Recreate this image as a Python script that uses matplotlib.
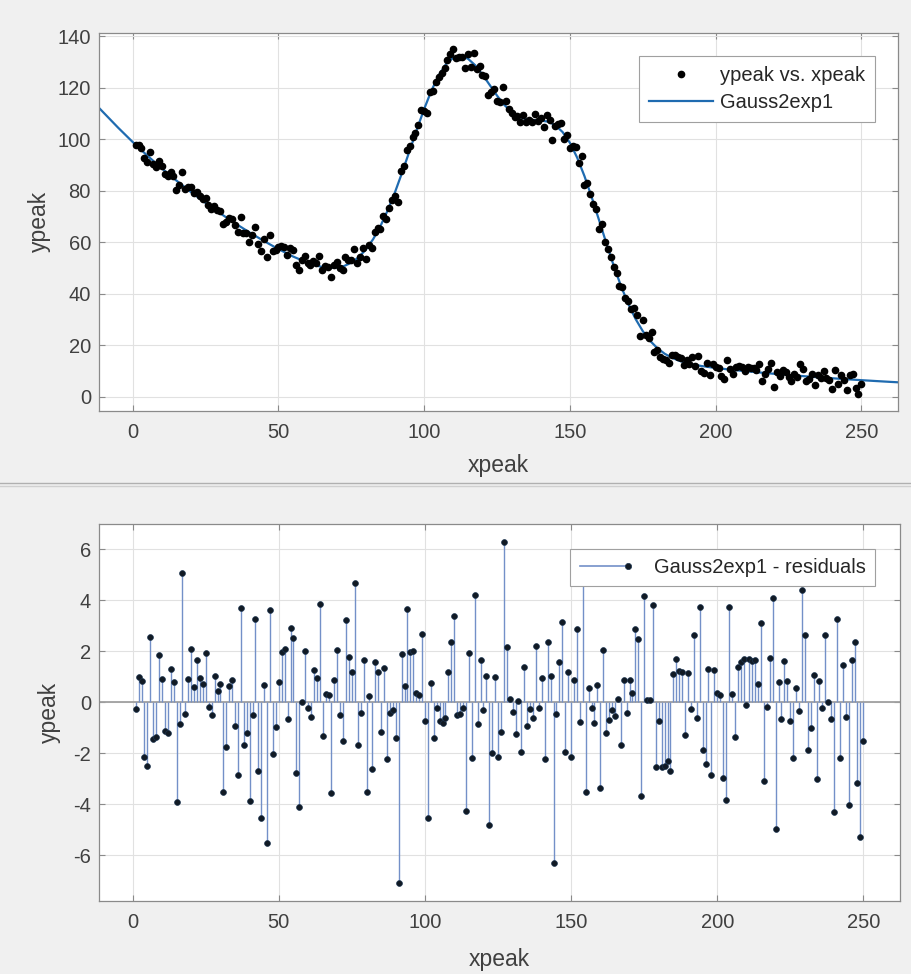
import numpy as np
import matplotlib
matplotlib.use('Agg')
import matplotlib.pyplot as plt
from matplotlib.lines import Line2D
from matplotlib.legend_handler import HandlerBase

plt.rcParams['font.family'] = ['Liberation Sans', 'DejaVu Sans']
plt.rcParams['axes.unicode_minus'] = False

# data (x = 1..250)
xpeak = np.arange(1, 251)
ypeak = [
    97.6, 97.8, 96.6, 92.6, 91.2, 95.2, 90.3, 89.3, 91.5, 89.6,
    86.6, 85.6, 87.2, 85.7, 80.1, 82.2, 87.3, 80.8, 81.3, 81.6,
    79.3, 79.5, 77.9, 76.8, 77.2, 74.3, 73.1, 73.9, 72.5, 72.0,
    67.0, 68.0, 69.6, 69.1, 66.5, 63.9, 69.7, 63.6, 63.4, 60.0,
    62.7, 65.8, 59.2, 56.6, 61.2, 54.4, 62.9, 56.6, 57.0, 58.1,
    58.7, 58.3, 55.0, 57.9, 57.0, 51.2, 49.4, 53.0, 54.5, 51.8,
    51.1, 52.6, 51.9, 54.5, 49.1, 50.6, 50.4, 46.5, 51.0, 52.2,
    49.8, 49.1, 54.2, 53.2, 53.2, 57.5, 52.1, 54.3, 57.6, 53.6,
    58.9, 57.7, 63.8, 65.4, 65.1, 70.1, 69.0, 73.4, 76.3, 78.1,
    75.5, 87.6, 89.6, 95.9, 97.5, 100.9, 102.5, 105.7, 111.3, 111.1,
    110.1, 118.3, 118.7, 122.3, 124.1, 125.8, 127.7, 130.9, 133.1, 135.1,
    131.5, 131.8, 132.0, 127.5, 133.2, 128.1, 133.5, 127.2, 128.3, 124.9,
    124.6, 117.1, 118.2, 119.6, 114.8, 114.3, 120.4, 114.9, 111.8, 110.2,
    108.6, 109.2, 106.6, 109.6, 106.9, 107.4, 106.9, 109.7, 107.1, 108.3,
    104.9, 109.3, 107.6, 99.7, 105.0, 106.0, 106.5, 100.0, 101.5, 96.5,
    97.2, 96.9, 90.6, 93.5, 82.1, 82.9, 78.8, 74.8, 72.8, 65.2,
    67.0, 60.2, 57.2, 54.1, 50.5, 47.9, 43.0, 42.5, 38.5, 37.0,
    34.1, 34.3, 31.8, 23.7, 29.6, 24.1, 22.6, 25.0, 17.4, 18.1,
    15.4, 14.6, 14.1, 13.0, 16.2, 16.3, 15.4, 15.0, 12.2, 14.3,
    12.6, 15.3, 11.8, 15.9, 10.1, 9.3, 12.9, 8.6, 12.6, 11.5,
    11.3, 7.9, 6.9, 14.4, 10.8, 9.0, 11.7, 11.8, 11.7, 9.8,
    11.5, 11.3, 11.3, 10.2, 12.5, 6.2, 9.0, 10.8, 13.1, 3.9,
    9.6, 8.0, 10.3, 9.4, 7.7, 6.1, 8.8, 7.8, 12.5, 10.6,
    6.0, 6.8, 8.8, 4.6, 8.4, 7.2, 10.0, 7.3, 6.6, 2.9,
    10.3, 4.8, 8.4, 6.3, 2.7, 8.4, 9.0, 3.4, 1.2, 4.9,
]
resid = [
    -0.27, 0.98, 0.82, -2.16, -2.50, 2.55, -1.42, -1.37, 1.86, 0.92,
    -1.14, -1.19, 1.32, 0.81, -3.90, -0.85, 5.08, -0.46, 0.92, 2.08,
    0.61, 1.66, 0.97, 0.72, 1.92, -0.17, -0.51, 1.05, 0.46, 0.72,
    -3.53, -1.74, 0.64, 0.88, -0.93, -2.84, 3.69, -1.69, -1.19, -3.86,
    -0.51, 3.28, -2.69, -4.55, 0.67, -5.50, 3.62, -2.03, -0.95, 0.78,
    1.96, 2.08, -0.65, 2.90, 2.51, -2.78, -4.12, 0.00, 2.01, -0.21,
    -0.56, 1.27, 0.94, 3.84, -1.32, 0.33, 0.27, -3.54, 0.88, 2.04,
    -0.48, -1.52, 3.24, 1.76, 1.20, 4.67, -1.66, -0.41, 1.66, -3.53,
    0.26, -2.62, 1.59, 1.17, -1.18, 1.36, -2.22, -0.41, -0.30, -1.39,
    -7.10, 1.88, 0.64, 3.65, 1.96, 2.03, 0.35, 0.29, 2.67, -0.73,
    -4.55, 0.77, -1.41, -0.24, -0.73, -0.82, -0.60, 1.20, 2.38, 3.40,
    -0.50, -0.46, -0.21, -4.25, 1.92, -2.20, 4.21, -0.86, 1.66, -0.30,
    1.05, -4.81, -2.00, 0.98, -2.16, -1.18, 6.30, 2.16, 0.12, -0.37,
    -1.25, 0.05, -1.93, 1.40, -0.92, -0.27, -0.60, 2.21, -0.24, 0.94,
    -2.22, 2.38, 1.03, -6.31, -0.47, 1.57, 3.14, -1.93, 1.20, -2.13,
    0.88, 2.86, -0.76, 5.00, -3.53, 0.58, -0.24, -0.80, 0.68, -3.37,
    2.05, -1.19, -0.69, -0.30, -0.52, 0.13, -1.67, 0.88, -0.41, 0.88,
    0.35, 2.86, 2.48, -3.66, 4.17, 0.09, 0.10, 3.82, -2.55, -0.73,
    -2.55, -2.50, -2.30, -2.70, 1.11, 1.69, 1.23, 1.20, -1.28, 1.16,
    -0.27, 2.64, -0.63, 3.73, -1.87, -2.43, 1.29, -2.85, 1.27, 0.35,
    0.30, -2.98, -3.83, 3.73, 0.33, -1.37, 1.40, 1.59, 1.68, -0.10,
    1.70, 1.60, 1.66, 0.72, 3.10, -3.07, -0.17, 1.73, 4.08, -4.98,
    0.78, -0.67, 1.63, 0.85, -0.72, -2.20, 0.58, -0.34, 4.41, 2.64,
    -1.87, -1.02, 1.07, -3.02, 0.85, -0.24, 2.64, 0.03, -0.67, -4.29,
    3.27, -2.20, 1.46, -0.56, -4.03, 1.66, 2.38, -3.18, -5.27, -1.50,
]
# fitted curve (Gauss2exp1)
fit_x = [-11.45, -5, 0, 5, 10, 15, 20, 25, 30, 35, 40, 45, 50, 55, 60,
         62.5, 65, 67.5, 70, 72.5, 75, 77.5, 80, 82.5, 85, 87.5, 90,
         92.5, 95, 97.5, 100, 102.5, 105, 107.5, 110, 112.5, 115,
         117.5, 120, 122.5, 125, 127.5, 130, 132.5, 135, 137.5, 140,
         142.5, 145, 147.5, 150, 152.5, 155, 157.5, 160, 162.5, 165,
         167.5, 170, 172.5, 175, 177.5, 180, 182.5, 185, 187.5, 190,
         195, 200, 205, 210, 215, 220, 225, 230, 235, 240, 245, 250,
         255, 260, 262.45]
fit_y = [112.07, 104.51, 98.94, 93.67, 88.68, 83.96, 79.49, 75.25, 71.25,
         67.45, 63.87, 60.49, 57.33, 54.46, 52.04, 51.10, 50.39, 50.04,
         50.11, 50.74, 52.03, 54.14, 57.16, 61.19, 66.27, 72.42, 79.46,
         87.27, 95.52, 103.83, 111.78, 118.94, 124.85, 129.19, 131.73,
         132.40, 131.32, 128.76, 125.17, 121.06, 116.96, 113.34, 110.56,
         108.73, 107.79, 107.47, 107.32, 106.82, 105.46, 102.79, 98.61,
         92.83, 85.66, 77.41, 68.57, 59.61, 50.97, 43.05, 36.11, 30.23,
         25.46, 21.70, 18.83, 16.69, 15.11, 13.95, 13.09, 11.93, 11.14,
         10.51, 9.93, 9.40, 8.90, 8.43, 7.98, 7.55, 7.15, 6.77, 6.41,
         6.07, 5.74, 5.59]

BG = '#f0f0f0'
FIT_COLOR = '#1f6bb0'
STEM_COLOR = '#7390c8'
TXT = '#404040'
FS = 14.5


class StemHandler(HandlerBase):
    # legend handle: short line with a dot at its right end
    def create_artists(self, legend, orig_handle, xdescent, ydescent,
                       width, height, fontsize, trans):
        y = height / 2 - ydescent
        line = Line2D([-xdescent, width - xdescent], [y, y],
                      color=STEM_COLOR, lw=1.2, transform=trans)
        dot = Line2D([width - xdescent], [y], marker='o', ms=4.5, ls='none',
                     mfc='#111a24', mec='#1d3550', mew=0.5, transform=trans)
        return [line, dot]


def style_axes(ax):
    ax.set_facecolor('white')
    for s in ax.spines.values():
        s.set_color('#8a8a8a')
        s.set_linewidth(0.9)
    ax.tick_params(direction='in', length=4, width=0.8, color='#8a8a8a',
                   labelsize=FS, labelcolor=TXT, top=True, right=True)
    ax.tick_params(axis='x', pad=9)
    ax.tick_params(axis='y', pad=6)
    ax.grid(True, color='#e1e1e1', lw=0.8)
    ax.set_axisbelow(True)


fig = plt.figure(figsize=(9.11, 9.74), dpi=100, facecolor=BG)
ax1 = fig.add_axes([99.3 / 911, 1 - 410.7 / 974, 798.4 / 911, 378 / 974])
ax2 = fig.add_axes([99.3 / 911, 1 - 900.7 / 974, 800.4 / 911, 376.4 / 974])

# separator between the two panels
fig.add_artist(Line2D([0, 1], [1 - 482.5 / 974] * 2, color='#b0b0b0', lw=1.0))
fig.add_artist(Line2D([0, 1], [1 - 485.5 / 974] * 2, color='#d0d0d0', lw=1.0))

# top panel: data + fit
style_axes(ax1)
ax1.plot(xpeak, ypeak, 'o', ms=4.5, color='black', ls='none',
         label='ypeak vs. xpeak', zorder=3)
ax1.plot(fit_x, fit_y, color=FIT_COLOR, lw=1.6, label='Gauss2exp1', zorder=2)
ax1.set_xlim(-11.45, 262.45)
ax1.set_ylim(-5.45, 141.4)
ax1.set_xticks(range(0, 251, 50))
ax1.set_yticks(range(0, 141, 20))
ax1.set_xlabel('xpeak', fontsize=16.5, color=TXT)
ax1.set_ylabel('ypeak', fontsize=16.5, color=TXT)
ax1.xaxis.set_label_coords(0.5, -0.115)
ax1.yaxis.set_label_coords(-0.060, 0.5)
leg1 = ax1.legend(loc='upper right', bbox_to_anchor=(0.9719, 0.9384),
                  borderaxespad=0, numpoints=1, fontsize=FS,
                  handlelength=3.2, handletextpad=0.35, borderpad=0.5,
                  labelspacing=0.4, fancybox=False, framealpha=1,
                  edgecolor='#a0a0a0')
leg1.get_frame().set_linewidth(0.8)
for t in leg1.get_texts():
    t.set_color('#262626')

# bottom panel: residuals
style_axes(ax2)
ax2.axhline(0, color='#a0a0a0', lw=1.3, zorder=1.5)
ax2.vlines(xpeak, 0, resid, color=STEM_COLOR, lw=1.0, zorder=2)
ax2.plot(xpeak, resid, 'o', ms=4.2, mfc='#111a24', mec='#1d3550', mew=0.5,
         ls='none', zorder=3)
ax2.set_xlim(-11.45, 262.45)
ax2.set_ylim(-7.78, 6.98)
ax2.set_xticks(range(0, 251, 50))
ax2.set_yticks(range(-6, 7, 2))
ax2.set_xlabel('xpeak', fontsize=16.5, color=TXT)
ax2.set_ylabel('ypeak', fontsize=16.5, color=TXT)
ax2.xaxis.set_label_coords(0.5, -0.125)
ax2.yaxis.set_label_coords(-0.0485, 0.5)
proxy = Line2D([], [])
leg2 = ax2.legend([proxy], ['Gauss2exp1 - residuals'],
                  handler_map={Line2D: StemHandler()},
                  loc='upper right', bbox_to_anchor=(0.9691, 0.9336),
                  borderaxespad=0, fontsize=FS, handlelength=2.4,
                  handletextpad=1.3, borderpad=0.45, fancybox=False,
                  framealpha=1, edgecolor='#a0a0a0')
leg2.get_frame().set_linewidth(0.8)
for t in leg2.get_texts():
    t.set_color('#262626')

fig.savefig('out.png', dpi=100, facecolor=BG)
